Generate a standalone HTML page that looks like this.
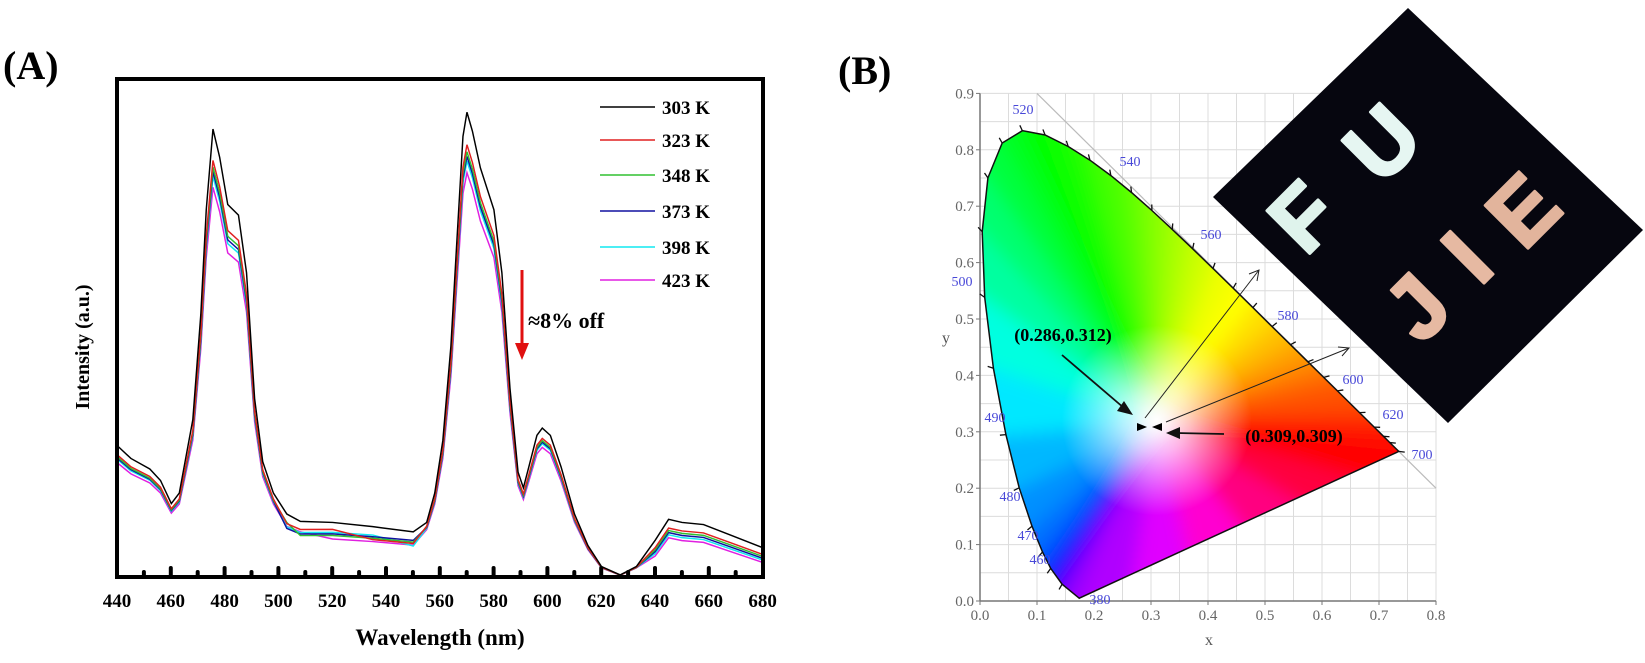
<!DOCTYPE html>
<html><head><meta charset="utf-8"><style>
html,body{margin:0;padding:0;background:#fff;}
svg{display:block;}
</style></head><body>
<svg id="s" width="1645" height="663" viewBox="0 0 1645 663" xmlns="http://www.w3.org/2000/svg">
<defs>
<filter id="bl" x="-20%" y="-20%" width="140%" height="140%"><feGaussianBlur stdDeviation="9"/></filter>
<radialGradient id="wg" cx="0.5" cy="0.5" r="0.5"><stop offset="0" stop-color="#fff" stop-opacity="1"/><stop offset="0.35" stop-color="#fff" stop-opacity="0.7"/><stop offset="1" stop-color="#fff" stop-opacity="0"/></radialGradient>
<clipPath id="hs"><path id="hsp"/></clipPath>
</defs>
<g id="A"></g>
<g id="B"></g>
</svg>
<script>
var NS="http://www.w3.org/2000/svg";
function el(p,t,a,txt){var e=document.createElementNS(NS,t);for(var k in a)e.setAttribute(k,a[k]);if(txt!==undefined)e.textContent=txt;p.appendChild(e);return e;}
var A=document.getElementById('A'),B=document.getElementById('B');
var serif='"Liberation Serif",serif';
el(A,'text',{x:3,y:79,'font-family':serif,'font-weight':'bold','font-size':40},'(A)');
el(A,'text',{x:838,y:84,'font-family':serif,'font-weight':'bold','font-size':40},'(B)');
var pts=[[440,425],[445,437],[452,447],[456,458],[460,480],[463,470],[468,400],[471,300],[473,200],[475.5,123],[478,150],[481,195],[485,205],[488,260],[491,380],[494,440],[498,470],[503,490],[508,497],[520,498],[535,502],[550,507],[555,498],[558,470],[561,420],[564,330],[566,240],[568.5,130],[570,107],[572,125],[575,160],[580,200],[583,260],[586,370],[589,450],[591,465],[593,445],[596,415],[598,408],[601,415],[605,445],[610,490],[615,520],[620,540],[627,548],[633,540],[640,515],[645,495],[650,498],[658,500],[668,510],[680,522]];
var cols=['#000','#e02020','#30c030','#1010a0','#10e8f0','#e020e0'];
var fs=[1,0.93,0.915,0.905,0.895,0.87];
var g=el(A,'g',{transform:'scale(1.0491)'});
for(var c=cols.length-1;c>=0;c--){
  var d='';
  for(var i=0;i<pts.length;i++){
    var nm=pts[i][0],y=pts[i][1];
    var x=112+(nm-440)*2.5625;
    var yy=550-(550-y)*fs[c];
    if(c>0&&nm>=500&&nm<=552) yy+=6+((i*13+c*5)%7)-3;
    if(c>0&&nm>=640) yy+=3+c*1.5;
    if(yy>549)yy=549;
    d+=(i?'L':'M')+x.toFixed(1)+','+yy.toFixed(1);
  }
  el(g,'path',{d:d,fill:'none',stroke:cols[c],'stroke-width':1.4});
}
el(A,'rect',{x:117,y:79,width:646,height:498,fill:'none',stroke:'#000','stroke-width':4});
for(var nm=450;nm<680;nm+=10){var x=117+(nm-440)*2.69;var tall=(nm%20==0);
  el(A,'line',{x1:x,y1:577,x2:x,y2:tall?568:572,stroke:'#000','stroke-width':4,'stroke-linecap':'round'});}
for(var nm=440;nm<=680;nm+=20){var x=117+(nm-440)*2.69;
  el(A,'text',{x:x,y:607,'text-anchor':'middle','font-family':serif,'font-weight':'bold','font-size':19},nm);}
el(A,'text',{x:440,y:645,'text-anchor':'middle','font-family':serif,'font-weight':'bold','font-size':23},'Wavelength (nm)');
el(A,'text',{x:0,y:0,transform:'translate(89,347) rotate(-90)','text-anchor':'middle','font-family':serif,'font-weight':'bold','font-size':20},'Intensity (a.u.)');
var ly=[107,140,175,211,247,280];
for(var i=0;i<6;i++){el(A,'line',{x1:600,y1:ly[i],x2:655,y2:ly[i],stroke:cols[i],'stroke-width':1.6});
  el(A,'text',{x:662,y:ly[i]+7,'font-family':serif,'font-weight':'bold','font-size':19},['303 K','323 K','348 K','373 K','398 K','423 K'][i]);}
el(A,'line',{x1:522,y1:270,x2:522,y2:345,stroke:'#e01010','stroke-width':3});
el(A,'polygon',{points:'515,343 529,343 522,360',fill:'#e01010'});
el(A,'text',{x:528,y:328,'font-family':serif,'font-weight':'bold','font-size':22},'\u22488% off');
function X(x){return 980+570*x;} function Y(y){return 601-564*y;}
for(var v=0;v<=0.8001;v+=0.05)el(B,'line',{x1:X(v),y1:Y(0),x2:X(v),y2:Y(0.9),stroke:'#dcdcdc','stroke-width':1});
for(var v=0;v<=0.9001;v+=0.05)el(B,'line',{x1:X(0),y1:Y(v),x2:X(0.8),y2:Y(v),stroke:'#dcdcdc','stroke-width':1});
el(B,'line',{x1:X(0.1),y1:Y(0.9),x2:X(0.8),y2:Y(0.2),stroke:'#bbb','stroke-width':1.2});
el(B,'line',{x1:X(0),y1:Y(0),x2:X(0.8),y2:Y(0),stroke:'#777','stroke-width':1.5});
el(B,'line',{x1:X(0),y1:Y(0),x2:X(0),y2:Y(0.9),stroke:'#777','stroke-width':1.5});
for(var i=0;i<=8;i++){var v=i/10;el(B,'line',{x1:X(v),y1:Y(0),x2:X(v),y2:Y(0)+4,stroke:'#777'});
  el(B,'text',{x:X(v),y:Y(0)+19,'text-anchor':'middle','font-family':serif,'font-size':15,fill:'#666'},v.toFixed(1));}
for(var i=0;i<=9;i++){var v=i/10;el(B,'line',{x1:X(0)-4,y1:Y(v),x2:X(0),y2:Y(v),stroke:'#777'});
  el(B,'text',{x:X(0)-6,y:Y(v)+5,'text-anchor':'end','font-family':serif,'font-size':15,fill:'#666'},v.toFixed(1));}
el(B,'text',{x:1209,y:645,'text-anchor':'middle','font-family':serif,'font-size':16,fill:'#555'},'x');
el(B,'text',{x:946,y:343,'text-anchor':'middle','font-family':serif,'font-size':16,fill:'#555'},'y');
var L=[[380,.1741,.0050,'#9000ff'],[460,.1440,.0297,'#2000ff'],[470,.1241,.0578,'#0040ff'],[475,.1096,.0868,'#0070ff'],[480,.0913,.1327,'#0090ff'],[485,.0687,.2007,'#00b8ff'],[490,.0454,.2950,'#00e8ff'],[495,.0235,.4127,'#00ffe0'],[500,.0082,.5384,'#00ffa0'],[505,.0039,.6548,'#00ff70'],[510,.0139,.7502,'#00ff40'],[515,.0389,.8120,'#00ff20'],[520,.0743,.8338,'#00ff00'],[525,.1142,.8262,'#10ff00'],[530,.1547,.8059,'#20ff00'],[535,.1929,.7816,'#40ff00'],[540,.2296,.7543,'#50ff00'],[545,.2658,.7243,'#70ff00'],[550,.3016,.6923,'#90ff00'],[555,.3373,.6589,'#b0ff00'],[560,.3731,.6245,'#d0ff00'],[565,.4087,.5896,'#f0ff00'],[570,.4441,.5547,'#ffff00'],[575,.4788,.5202,'#ffe000'],[580,.5125,.4866,'#ffc000'],[585,.5448,.4544,'#ffa000'],[590,.5752,.4242,'#ff8000'],[595,.6029,.3965,'#ff6000'],[600,.6270,.3725,'#ff5000'],[610,.6658,.3340,'#ff3000'],[620,.6915,.3083,'#ff1800'],[630,.7079,.2920,'#ff1000'],[640,.7190,.2809,'#ff0800'],[700,.7347,.2653,'#ff0000']];
var P=L.map(function(a){return [X(a[1]),Y(a[2]),a[3],a[0]];});
var pc=['#ff0040','#ff0080','#ff00d0','#e000ff','#b000ff'];
for(var k=1;k<=5;k++){var t=k/6;var x=.7347+(.1741-.7347)*t,y=.2653+(.0050-.2653)*t;P.push([X(x),Y(y),pc[k-1],0]);}
var hd='';P.forEach(function(p,i){hd+=(i?'L':'M')+p[0].toFixed(1)+','+p[1].toFixed(1);});hd+='Z';
document.getElementById('hsp').setAttribute('d',hd);
var W=[X(0.31),Y(0.32)];
var cg=el(B,'g',{'clip-path':'url(#hs)'});
var fg=el(cg,'g',{filter:'url(#bl)'});
for(var i=0;i<P.length;i++){var a=P[i],b=P[(i+1)%P.length];
  var ex=function(p){return [W[0]+(p[0]-W[0])*1.15,W[1]+(p[1]-W[1])*1.15];};
  var ae=ex(a),be=ex(b);
  el(fg,'polygon',{points:W.join(',')+' '+ae.join(',')+' '+be.join(','),fill:a[2],stroke:a[2],'stroke-width':2});}
el(cg,'ellipse',{cx:W[0],cy:W[1],rx:95,ry:95,fill:'url(#wg)'});
el(B,'path',{d:hd,fill:'none',stroke:'#111','stroke-width':1.5});
for(var i=1;i<L.length;i++){var p=P[i];var dx=p[0]-W[0],dy=p[1]-W[1],n=Math.sqrt(dx*dx+dy*dy);
  el(B,'line',{x1:p[0],y1:p[1],x2:p[0]+dx/n*6,y2:p[1]+dy/n*6,stroke:'#111','stroke-width':1.3});}
var lab=[[520,1023,114],[540,1130,166],[560,1211,239],[580,1288,320],[600,1353,384],[620,1393,419],[700,1422,459],[500,962,286],[490,995,422],[480,1010,501],[470,1028,540],[460,1040,564],[380,1100,604]];
lab.forEach(function(l){el(B,'text',{x:l[1],y:l[2],'text-anchor':'middle','font-family':serif,'font-size':14,fill:'#4848d8'},l[0]);});
el(B,'text',{x:1063,y:341,'text-anchor':'middle','font-family':serif,'font-weight':'bold','font-size':18},'(0.286,0.312)');
el(B,'text',{x:1294,y:442,'text-anchor':'middle','font-family':serif,'font-weight':'bold','font-size':18},'(0.309,0.309)');
el(B,'line',{x1:1062,y1:355,x2:1124,y2:408,stroke:'#111','stroke-width':1.8});
el(B,'polygon',{points:'1133,415 1117,411 1124,401',fill:'#111'});
el(B,'line',{x1:1224,y1:434,x2:1176,y2:433,stroke:'#111','stroke-width':1.8});
el(B,'polygon',{points:'1166,433 1180,427 1180,439',fill:'#111'});
el(B,'polygon',{points:'1137,423 1147,427 1137,431',fill:'#000'});
el(B,'polygon',{points:'1162,423 1152,427 1162,431',fill:'#000'});
el(B,'line',{x1:1145,y1:418,x2:1259,y2:270,stroke:'#222','stroke-width':1});
el(B,'polyline',{points:'1249,274 1259,270 1257,281',fill:'none',stroke:'#222','stroke-width':1});
el(B,'line',{x1:1166,y1:422,x2:1349,y2:348,stroke:'#222','stroke-width':1});
el(B,'polyline',{points:'1338,347 1349,348 1342,356',fill:'none',stroke:'#222','stroke-width':1});
el(B,'polygon',{points:'1408,8 1643,230 1448,423 1213,197',fill:'#06060f'});
var ls=[['F',1303,217,'#dff3ec'],['U',1382,143,'#e6f6f2'],['J',1417,307,'#e6b9a2'],['I',1467,257,'#e6b9a2'],['E',1523,210,'#e2b49c']];
ls.forEach(function(l){el(B,'text',{x:0,y:0,transform:'translate('+l[1]+','+l[2]+') rotate(-45)','text-anchor':'middle','dominant-baseline':'central','font-family':'"Liberation Sans",sans-serif','font-weight':'bold','font-size':88,fill:l[3],stroke:l[3],'stroke-width':3,'stroke-linejoin':'round'},l[0]);});
</script>
</body></html>
